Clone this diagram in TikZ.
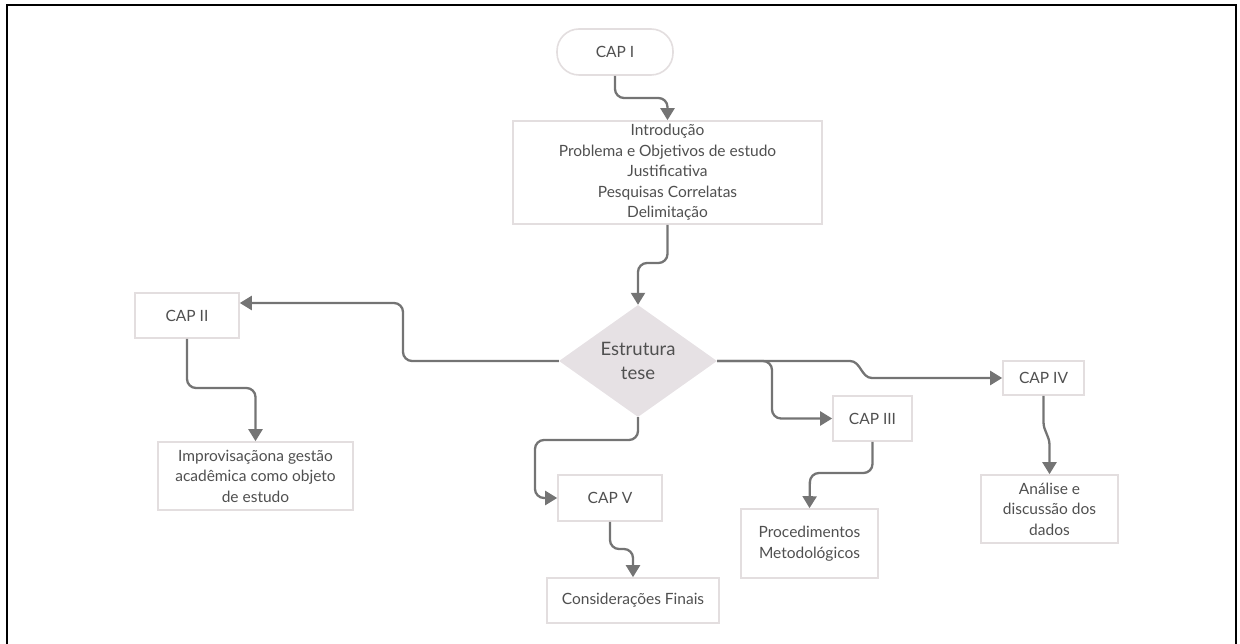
\documentclass[tikz,border=0pt]{standalone}
\usepackage{fontspec}
\setmainfont{Lato}
\usetikzlibrary{arrows.meta,shapes.geometric}
\definecolor{txt}{HTML}{505050}
\definecolor{boxline}{HTML}{E3DEDF}
\definecolor{arrowc}{HTML}{747474}
\definecolor{dfill}{HTML}{E6E1E4}
\tikzset{
  box/.style={draw=boxline, line width=1.6pt, fill=white, text=txt, inner sep=0pt, align=center,
    font=\fontsize{15.5}{20.5}\selectfont},
  stadium/.style={box, rounded corners=22pt},
  dia/.style={diamond, fill=dfill, text=txt, inner sep=0pt, align=center, aspect=1.41,
    font=\fontsize{18.5}{24}\selectfont},
  arr/.style={draw=arrowc, line width=2.3pt, rounded corners=9pt,
    -{Triangle[length=12pt,width=14pt]}},
}
\begin{document}
\begin{tikzpicture}[x=1pt,y=-1pt]
\useasboundingbox (0,0) rectangle (1240,644);
% outer frame
\draw[black, line width=2pt] (7,644) -- (7,5) -- (1236,5) -- (1236,644);

% nodes
\node[stadium, minimum width=116, minimum height=46] (cap1) at (615,52) {CAP I};
\node[box, minimum width=309, minimum height=103] (intro) at (667.5,172.5)
  {Introdução\\Problema e Objetivos de estudo\\Justificativa\\Pesquisas Correlatas\\Delimitação};
\node[dia, minimum width=158, minimum height=112] (d) at (638,361) {Estrutura\\tese};
\node[box, minimum width=104, minimum height=45] (cap2) at (187,315.5) {CAP II};
\node[box, minimum width=195, minimum height=68] (imp) at (255.5,476)
  {Improvisaçãona gestão\\acadêmica como objeto\\de estudo};
\node[box, minimum width=104, minimum height=46] (cap5) at (610,498) {CAP V};
\node[box, minimum width=172, minimum height=45] (cons) at (633,600.5) {Considerações Finais};
\node[box, minimum width=79, minimum height=45] (cap3) at (872.5,418.5) {CAP III};
\node[box, minimum width=137, minimum height=69] (proc) at (809.5,543.5)
  {Procedimentos\\Metodológicos};
\node[box, minimum width=81, minimum height=34] (cap4) at (1043.5,378) {CAP IV};
\node[box, minimum width=137, minimum height=68] (ana) at (1049.5,509)
  {Análise e\\discussão dos\\dados};

% helper coordinates
\coordinate (c1) at (667.5,98);
\coordinate (c2) at (638,263);
\coordinate (c3) at (403,303);
\coordinate (c4) at (255.5,388);
\coordinate (c5) at (535,440);
\coordinate (c6) at (633,549);
\coordinate (c7) at (772,361);
\coordinate (c8a) at (850,361);
\coordinate (c8b) at (872,378);
\coordinate (c9) at (810,473);
\coordinate (c10a) at (1043.5,422);
\coordinate (c10b) at (1049.5,445);

% connectors
\draw[arr] (cap1.south) |- (c1) -- (intro.north);
\draw[arr] (intro.south) |- (c2) -- (d.north);
\draw[arr] (d.west) -| (c3) -- (cap2.east |- c3);
\draw[arr] (cap2.south) |- (c4) -- (imp.north);
\draw[arr] (d.south) |- (c5) |- (cap5.west);
\draw[arr] (cap5.south) |- (c6) -- (cons.north);
\draw[arr] (d.east) -- (c7) |- (cap3.west);
\draw[arr, rounded corners=0pt] (d.east) -- (c8a) to[out=0,in=180] (c8b) -- (cap4.west);
\draw[arr] (cap3.south) |- (c9) -- (proc.north);
\draw[arr, rounded corners=0pt] (cap4.south) -- (c10a) to[out=-90,in=90] (c10b) -- (ana.north);
\end{tikzpicture}
\end{document}
